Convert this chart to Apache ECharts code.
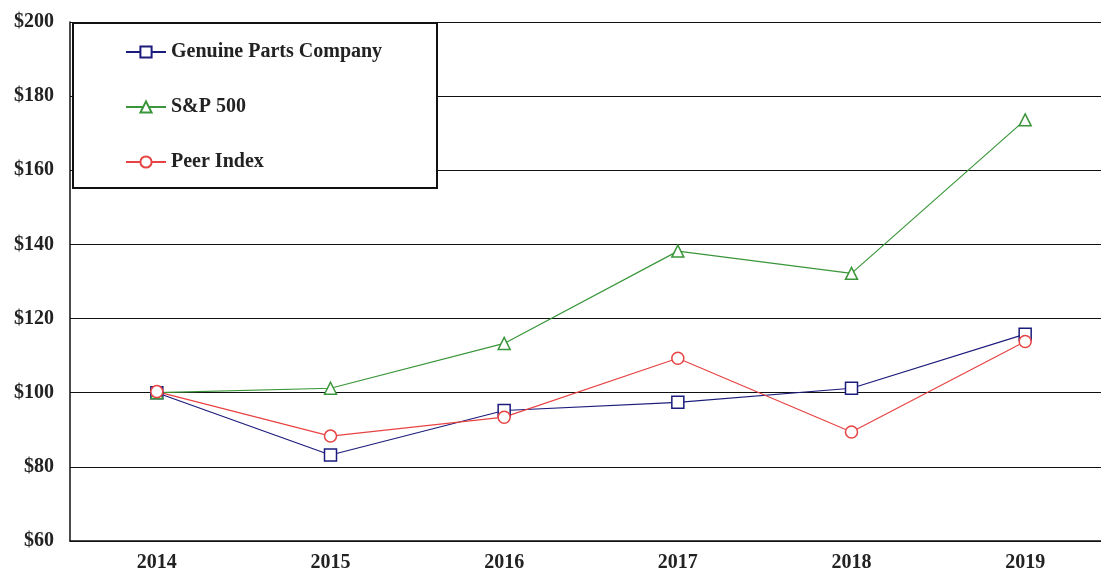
<!DOCTYPE html>
<html>
<head>
<meta charset="utf-8">
<script src="https://cdn.jsdelivr.net/npm/echarts@6/dist/echarts.min.js"></script>
<style>html,body{margin:0;padding:0;background:#fff;overflow:hidden}#c{width:1120px;height:572px}</style>
</head>
<body>
<div id="c"></div>
<script>
const years = ['2014', '2015', '2016', '2017', '2018', '2019'];
const gpc = [100, 83.2, 95.2, 97.4, 101.2, 115.8];
const sp500 = [100, 101.2, 113.3, 138.2, 132.2, 173.6];
const peer = [100.3, 88.3, 93.4, 109.3, 89.4, 113.8];
const seriesNames = ['Genuine Parts Company', 'S&P 500', 'Peer Index'];

const font = 'Liberation Serif';
const chart = echarts.init(document.getElementById('c'));
function mk(name, data, color, symbol) {
  return {
    name, type: 'line', data, symbol, symbolSize: 12,
    lineStyle: { color, width: 1.2 },
    itemStyle: { color: '#fff', borderColor: color, borderWidth: 1.5 },
    emphasis: { disabled: true },
    animation: false
  };
}
chart.setOption({
  animation: false,
  grid: { left: 70, top: 22, right: 8, bottom: 31, outerBoundsMode: 'none', containLabel: false },
  graphic: [{
    type: 'rect', left: 72, top: 22, z: 10,
    shape: { width: 364, height: 165 },
    style: { fill: '#fff', stroke: '#111', lineWidth: 2 }
  }],
  legend: {
    orient: 'vertical', left: 120, top: 37, z: 20,
    itemWidth: 40, itemHeight: 14, itemGap: 35,
    data: seriesNames,
    textStyle: { fontFamily: font, fontWeight: 'bold', fontSize: 20, color: '#222' }
  },
  xAxis: {
    type: 'category', data: years, boundaryGap: true,
    axisLine: { lineStyle: { color: '#111', width: 1.5 } },
    axisTick: { alignWithLabel: true, length: 6, lineStyle: { color: '#111' } },
    axisLabel: { fontFamily: font, fontWeight: 'bold', fontSize: 20, color: '#222', margin: 12 }
  },
  yAxis: {
    type: 'value', min: 60, max: 200, interval: 20,
    axisLine: { show: true, lineStyle: { color: '#111', width: 1.5 } },
    axisTick: { show: false },
    splitLine: { lineStyle: { color: '#111', width: 1.2 } },
    axisLabel: { formatter: '${value}', fontFamily: font, fontWeight: 'bold', fontSize: 20, color: '#222', margin: 16, padding: [3, 0, 0, 0] }
  },
  series: [
    mk(seriesNames[0], gpc, '#1c1c7c', 'rect'),
    mk(seriesNames[1], sp500, '#3a963a', 'triangle'),
    mk(seriesNames[2], peer, '#e84343', 'circle')
  ]
});
</script>
</body>
</html>
